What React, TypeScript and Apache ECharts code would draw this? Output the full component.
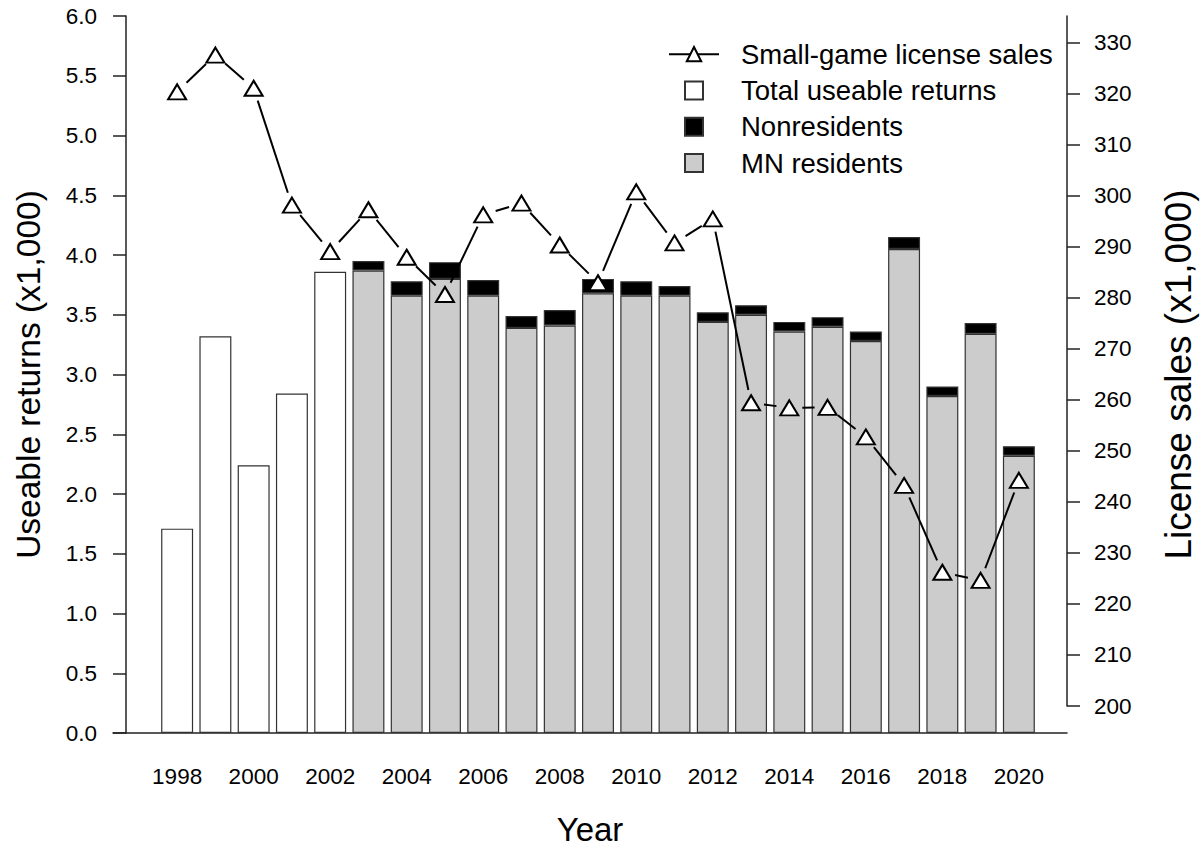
import React, { useEffect, useRef } from "react";
import * as echarts from "echarts";

const years = [
  "1998", "1999", "2000", "2001", "2002", "2003", "2004", "2005", "2006", "2007", "2008", "2009",
  "2010", "2011", "2012", "2013", "2014", "2015", "2016", "2017", "2018", "2019", "2020",
];

// Useable returns (x1,000)
const totalReturns = [1.71, 3.32, 2.24, 2.84, 3.86, null, null, null, null, null, null, null, null, null, null, null, null, null, null, null, null, null, null];
const mnResidents = [null, null, null, null, null, 3.87, 3.66, 3.8, 3.66, 3.39, 3.41, 3.68, 3.66, 3.66, 3.44, 3.5, 3.36, 3.4, 3.28, 4.05, 2.82, 3.34, 2.32];
const nonResidents = [null, null, null, null, null, 0.08, 0.12, 0.14, 0.13, 0.1, 0.13, 0.12, 0.12, 0.08, 0.08, 0.08, 0.08, 0.08, 0.08, 0.1, 0.08, 0.09, 0.08];

// Small-game license sales (x1,000)
const licenseSales = [320.3, 327.5, 321.0, 298.1, 289.0, 297.2, 287.9, 280.6, 296.2, 298.5, 290.3, 282.9, 300.7, 290.7, 295.4, 259.4, 258.4, 258.5, 252.7, 243.2, 226.2, 224.6, 244.2];

const rightTicks = [200, 210, 220, 230, 240, 250, 260, 270, 280, 290, 300, 310, 320, 330];

const FONT = "'Liberation Sans', Arial, sans-serif";
const AXIS_COLOR = "#222";
const BAR_BORDER = "#333";

export default function App() {
  const ref = useRef<HTMLDivElement>(null);

  useEffect(() => {
    if (!ref.current) return;
    const chart = echarts.init(ref.current, undefined, { renderer: "svg" });

    const option: any = {
      animation: false,
      backgroundColor: "#fff",
      textStyle: { fontFamily: FONT, color: "#000" },
      legend: {
        orient: "vertical",
        left: 663,
        top: 31,
        itemWidth: 50,
        itemHeight: 18,
        itemGap: 0,
        symbolKeepAspect: true,
        selectedMode: false,
        textStyle: { fontFamily: FONT, fontSize: 27.5, color: "#000", lineHeight: 36.3, padding: [0, 0, 0, 17] },
        data: [
          { name: "Small-game license sales", lineStyle: { width: 2, color: "#000", opacity: 1, type: "solid" } },
          { name: "Total useable returns", icon: "path://M0 0H10V10H0Z" },
          { name: "Nonresidents", icon: "path://M0 0H10V10H0Z" },
          { name: "MN residents", icon: "path://M0 0H10V10H0Z" },
        ],
      },
      grid: [
        { left: 158, width: 880, top: 16, height: 717, outerBoundsMode: "none", containLabel: false },
        { left: 158, width: 880, top: 16, height: 690, outerBoundsMode: "none", containLabel: false },
        { left: 113, width: 954, top: 16, height: 717, outerBoundsMode: "none", containLabel: false },
      ],
      xAxis: [
        {
          gridIndex: 0,
          type: "category",
          data: years,
          axisLine: { show: false, onZero: false },
          axisTick: { show: false },
          axisLabel: { interval: 1, margin: 32, fontSize: 22.5, color: "#000", fontFamily: FONT },
          splitLine: { show: false },
        },
        { gridIndex: 1, type: "category", data: years, show: false, axisLine: { onZero: false } },
        {
          gridIndex: 2,
          type: "value",
          min: 0,
          max: 1,
          axisLine: { show: true, onZero: false, lineStyle: { color: AXIS_COLOR, width: 1.5 } },
          axisTick: { show: false },
          axisLabel: { show: false },
          splitLine: { show: false },
          name: "Year",
          nameLocation: "middle",
          nameGap: 80,
          nameTextStyle: { fontSize: 33, color: "#000", fontFamily: FONT },
        },
      ],
      yAxis: [
        {
          gridIndex: 0,
          type: "value",
          position: "left",
          offset: 32,
          min: 0,
          max: 6,
          interval: 0.5,
          axisLine: { show: true, onZero: false, lineStyle: { color: AXIS_COLOR, width: 1.5 } },
          axisTick: { show: true, length: 13, lineStyle: { color: AXIS_COLOR, width: 1.5 } },
          axisLabel: {
            margin: 29,
            fontSize: 22.5,
            color: "#000",
            fontFamily: FONT,
            formatter: (v: number) => v.toFixed(1),
          },
          splitLine: { show: false },
          name: "Useable returns (x1,000)",
          nameLocation: "middle",
          nameGap: 81,
          nameTextStyle: { fontSize: 33.5, color: "#000", fontFamily: FONT },
        },
        {
          gridIndex: 1,
          type: "value",
          position: "right",
          offset: 29,
          min: 200,
          max: 335.15,
          axisLine: { show: true, onZero: false, lineStyle: { color: AXIS_COLOR, width: 1.5 } },
          axisTick: { show: true, length: 13, customValues: rightTicks, lineStyle: { color: AXIS_COLOR, width: 1.5 } },
          axisLabel: { margin: 27, fontSize: 22.5, color: "#000", fontFamily: FONT, customValues: rightTicks },
          splitLine: { show: false },
        },
        {
          gridIndex: 2,
          type: "value",
          position: "right",
          min: 0,
          max: 1,
          axisLine: { show: false, onZero: false },
          axisTick: { show: false },
          axisLabel: { show: false },
          splitLine: { show: false },
          name: "License sales (x1,000)",
          nameLocation: "middle",
          nameGap: 93,
          nameRotate: 90,
          nameTextStyle: { fontSize: 37, color: "#000", fontFamily: FONT },
        },
      ],
      series: [
        {
          name: "Total useable returns",
          type: "bar",
          stack: "returns",
          xAxisIndex: 0,
          yAxisIndex: 0,
          barCategoryGap: "16.5%",
          data: totalReturns,
          itemStyle: { color: "#fff", borderColor: BAR_BORDER, borderWidth: 1.2 },
          z: 2,
        },
        {
          name: "MN residents",
          type: "bar",
          stack: "returns",
          xAxisIndex: 0,
          yAxisIndex: 0,
          barCategoryGap: "16.5%",
          data: mnResidents,
          itemStyle: { color: "#cccccc", borderColor: BAR_BORDER, borderWidth: 1.2 },
          z: 2,
        },
        {
          name: "Nonresidents",
          type: "bar",
          stack: "returns",
          xAxisIndex: 0,
          yAxisIndex: 0,
          barCategoryGap: "16.5%",
          data: nonResidents,
          itemStyle: { color: "#000", borderColor: BAR_BORDER, borderWidth: 1.2 },
          z: 2,
        },
        {
          name: "license-segments",
          type: "custom",
          xAxisIndex: 1,
          yAxisIndex: 1,
          silent: true,
          z: 4,
          data: licenseSales.map((v, i) => [i, v]),
          renderItem: (params: any, api: any) => {
            const i = params.dataIndex;
            if (i >= licenseSales.length - 1) return { type: "group", children: [] };
            const p0 = api.coord([i, licenseSales[i]]);
            const p1 = api.coord([i + 1, licenseSales[i + 1]]);
            const dx = p1[0] - p0[0];
            const dy = p1[1] - p0[1];
            const len = Math.hypot(dx, dy);
            const gap = 13;
            if (len <= gap * 2) return { type: "group", children: [] };
            const ux = dx / len;
            const uy = dy / len;
            return {
              type: "line",
              shape: {
                x1: p0[0] + ux * gap,
                y1: p0[1] + uy * gap,
                x2: p1[0] - ux * gap,
                y2: p1[1] - uy * gap,
              },
              style: { stroke: "#000", lineWidth: 2 },
            };
          },
        },
        {
          name: "Small-game license sales",
          type: "line",
          xAxisIndex: 1,
          yAxisIndex: 1,
          data: licenseSales,
          symbol: "triangle",
          symbolSize: [18, 15],
          showAllSymbol: true,
          lineStyle: { width: 0, opacity: 0, color: "#000" },
          itemStyle: { color: "#fff", borderColor: "#000", borderWidth: 2 },
          z: 5,
        },
      ],
    };

    chart.setOption(option);
    return () => chart.dispose();
  }, []);

  return (
    <div
      ref={ref}
      style={{ position: "fixed", left: 0, top: 0, width: 1203, height: 848, background: "#fff" }}
    />
  );
}
